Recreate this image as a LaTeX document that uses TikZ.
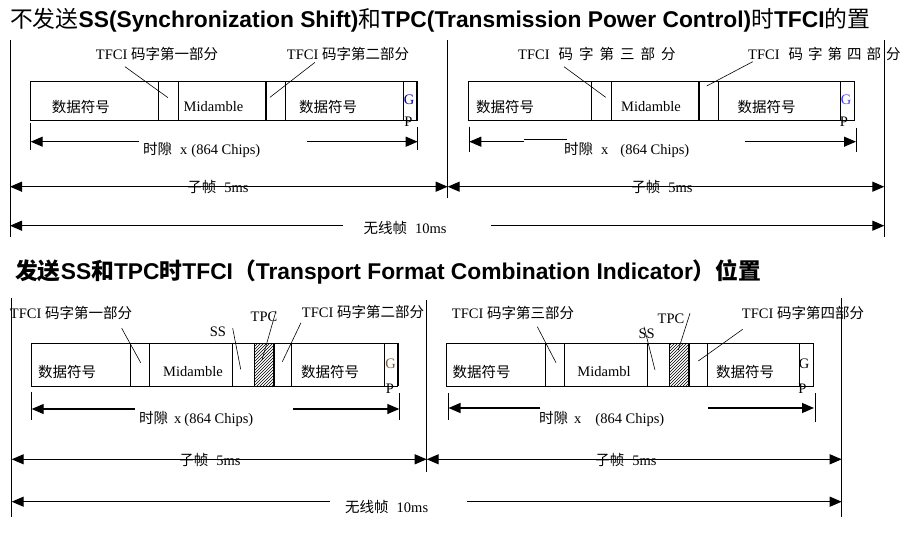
\documentclass[tikz,border=0pt]{standalone}
\usepackage{fontspec}
\setmainfont{Liberation Serif}
\newfontfamily\zhfont{Noto Sans CJK SC}
\newfontfamily\hdfont{Liberation Sans}
\usetikzlibrary{arrows.meta,patterns}
\newcommand\zh[1]{{\zhfont #1}}
\newcommand\lbsize{\fontsize{14.5}{16}\selectfont}
\tikzset{
  bx/.style={draw, line width=1pt},
  thk/.style={line width=2.2pt},
  ldr/.style={line width=0.6pt},
  sep/.style={line width=1pt},
  tk/.style={line width=0.9pt},
  dima/.style={line width=1.2pt, -{Triangle[length=12pt,width=10pt]}},
  dimb/.style={line width=1.2pt, {Triangle[length=12pt,width=10pt]}-{Triangle[length=12pt,width=10pt]}},
  lbl/.style={inner sep=0pt, font=\lbsize},
  ttl/.style={inner sep=0pt, anchor=west, font=\fontsize{22.8}{26}\selectfont},
  hatch/.style={pattern=north east lines, draw, line width=1pt},
}
\begin{document}
\begin{tikzpicture}[x=1pt,y=-1pt]
\fill[white] (0,0) rectangle (906,544);
\useasboundingbox (0,0) rectangle (906,544);

% ---------- titles ----------
\node[ttl] (t1) at (10,20) {\zh{不发送}{\hdfont\bfseries SS(Synchronization Shift)}\zh{和}{\hdfont\bfseries TPC(Transmission Power Control)}\zh{时}{\hdfont\bfseries TFCI}\zh{的置}};
\node[ttl] (t2) at (15,272) {\zh{\bfseries 发送}{\hdfont\bfseries SS}\zh{\bfseries 和}{\hdfont\bfseries TPC}\zh{\bfseries 时}{\hdfont\bfseries TFCI}\zh{\bfseries （}{\hdfont\bfseries Transport Format Combination Indicator}\zh{\bfseries ）位置}};

% ================= TOP PART =================
\coordinate (a1) at (10,40);      \coordinate (a2) at (10,237);
\coordinate (b1) at (447.7,40);   \coordinate (b2) at (447.7,198);
\coordinate (c1) at (884.3,40);   \coordinate (c2) at (884.3,237);
\draw[sep] (a1) -- (a2);
\draw[sep] (b1) -- (b2);
\draw[sep] (c1) -- (c2);

% slot box 1
\draw[bx] (30.7,81.7) rectangle (417.3,120);
\draw[sep] (158.7,81.7) -- (158.7,120);
\draw[sep] (178.7,81.7) -- (178.7,120);
\draw[thk] (265.7,81.7) -- (265.7,120);
\draw[sep] (285.3,81.7) -- (285.3,120);
\draw[sep] (403.7,81.7) -- (403.7,120);
\draw[thk] (417.3,81.7) -- (417.3,120);
% slot box 2
\draw[bx] (468.3,81.7) rectangle (854.3,120);
\draw[sep] (591.7,81.7) -- (591.7,120);
\draw[sep] (611.7,81.7) -- (611.7,120);
\draw[thk] (699.3,81.7) -- (699.3,120);
\draw[sep] (718.7,81.7) -- (718.7,120);
\draw[sep] (840.7,81.7) -- (840.7,120);

% labels above
\node[lbl] (l1) at (157,54) {TFCI \zh{码字第一部分}};
\node[lbl] (l2) at (348,54) {TFCI \zh{码字第二部分}};
\node[lbl, anchor=west] (l3) at (518,54) {TFCI\hspace{9pt}\zh{码\hspace{6pt}字\hspace{6pt}第\hspace{6pt}三\hspace{6pt}部\hspace{6pt}分}};
\node[lbl, anchor=west] (l4) at (748,54) {TFCI\hspace{9pt}\zh{码\hspace{5pt}字\hspace{5pt}第\hspace{5pt}四\hspace{5pt}部\hspace{5pt}分}};
\coordinate (p1a) at (125,66.7);   \coordinate (p1b) at (168,97.7);
\coordinate (p2a) at (315,62.3);   \coordinate (p2b) at (270,97.3);
\coordinate (p3a) at (564,66.7);   \coordinate (p3b) at (605.7,97.3);
\coordinate (p4a) at (752.7,61.7); \coordinate (p4b) at (706.7,86);
\draw[ldr] (p1a) -- (p1b);
\draw[ldr] (p2a) -- (p2b);
\draw[ldr] (p3a) -- (p3b);
\draw[ldr] (p4a) -- (p4b);

% box texts
\node[lbl] (d1) at (81,107) {\zh{数据符号}};
\node[lbl] (m1) at (213.5,107) {Midamble};
\node[lbl] (d2) at (328,107) {\zh{数据符号}};
\node[lbl, text=blue!60!black] (g1) at (409,100) {G};
\node[lbl] (q1) at (408.5,122) {P};
\node[lbl] (d3) at (505,107) {\zh{数据符号}};
\node[lbl] (m2) at (651,107) {Midamble};
\node[lbl] (d4) at (766.7,107) {\zh{数据符号}};
\node[lbl, text=blue!75!white] (g2) at (846,100) {G};
\node[lbl] (q2) at (844,122) {P};

% slot dimension 1
\coordinate (s1l) at (30.7,141.7); \coordinate (s1m) at (139,141.7);
\coordinate (s1n) at (307,141.7);  \coordinate (s1r) at (417.7,141.7);
\draw[tk] (30.7,123) -- (30.7,150);
\draw[tk] (417.7,126.7) -- (417.7,150);
\draw[dima] (s1m) -- (s1l);
\draw[dima] (s1n) -- (s1r);
\node[lbl, anchor=west] (x1) at (143,150) {\zh{时隙}\hspace{8pt}x\hspace{4pt}(864 Chips)};
% slot dimension 2
\coordinate (s2l) at (469.3,141.7); \coordinate (s2m) at (524,141.7);
\coordinate (s2u) at (524,139.5);   \coordinate (s2v) at (567,139.5);
\coordinate (s2n) at (744.5,141.7); \coordinate (s2r) at (856,141.7);
\draw[tk] (469.3,126.7) -- (469.3,151.7);
\draw[tk] (856,127.7) -- (856,152.3);
\draw[dima] (s2m) -- (s2l);
\draw[line width=1.2pt] (s2u) -- (s2v);
\draw[dima] (s2n) -- (s2r);
\node[lbl, anchor=west] (x2) at (564,150) {\zh{时隙}\hspace{8pt}x\hspace{12pt}(864 Chips)};

% sub-frames
\coordinate (f1l) at (10,186.7);  \coordinate (f1r) at (447.7,186.7);
\coordinate (f2l) at (447.7,186.7); \coordinate (f2r) at (884.3,186.7);
\draw[dimb] (f1l) -- (f1r);
\draw[dimb] (f2l) -- (f2r);
\node[lbl] (sf1) at (218,187) {\zh{子帧}\hspace{8pt}5ms};
\node[lbl] (sf2) at (662,187) {\zh{子帧}\hspace{8pt}5ms};

% radio frame
\coordinate (r1l) at (10,225.7);  \coordinate (r1m) at (343,225.7);
\coordinate (r1n) at (491,225.7); \coordinate (r1r) at (884.3,225.7);
\draw[dima] (r1m) -- (r1l);
\draw[dima] (r1n) -- (r1r);
\node[lbl] (rf1) at (405,228) {\zh{无线帧}\hspace{8pt}10ms};

% ================= BOTTOM PART =================
\coordinate (A1) at (11.7,298);   \coordinate (A2) at (11.7,517);
\coordinate (B1) at (426.7,300);  \coordinate (B2) at (426.7,472);
\coordinate (C1) at (841.7,298);  \coordinate (C2) at (841.7,517);
\draw[sep] (A1) -- (A2);
\draw[sep] (B1) -- (B2);
\draw[sep] (C1) -- (C2);

% box 3
\draw[hatch] (254.3,343.3) rectangle (274,386.3);
\draw[bx] (31.7,343.3) rectangle (397.7,386.3);
\draw[sep] (130.7,343.3) -- (130.7,386.3);
\draw[sep] (149.3,343.3) -- (149.3,386.3);
\draw[sep] (232.7,343.3) -- (232.7,386.3);
\draw[thk] (274,343.3) -- (274,386.3);
\draw[sep] (291.7,343.3) -- (291.7,386.3);
\draw[sep] (384.3,343.3) -- (384.3,386.3);
\draw[thk] (397.7,343.3) -- (397.7,386.3);
% box 4
\draw[hatch] (669.3,343.3) rectangle (689.3,386.3);
\draw[bx] (446.7,343.3) rectangle (813.3,386.3);
\draw[sep] (545.7,343.3) -- (545.7,386.3);
\draw[sep] (564.3,343.3) -- (564.3,386.3);
\draw[sep] (647.7,343.3) -- (647.7,386.3);
\draw[thk] (689.3,343.3) -- (689.3,386.3);
\draw[sep] (707.3,343.3) -- (707.3,386.3);
\draw[sep] (799.3,343.3) -- (799.3,386.3);

% labels above
\node[lbl] (L1) at (71,313) {TFCI \zh{码字第一部分}};
\node[lbl] (S1) at (218,331.7) {SS};
\node[lbl] (T1) at (264,316.7) {TPC};
\node[lbl] (L2) at (363,311.7) {TFCI \zh{码字第二部分}};
\node[lbl] (L3) at (513,313) {TFCI \zh{码字第三部分}};
\node[lbl] (S2) at (646.7,333.3) {SS};
\node[lbl] (T2) at (671,318.3) {TPC};
\node[lbl] (L4) at (803,313.3) {TFCI \zh{码字第四部分}};
\draw[ldr] (121.7,328.3) -- (140.7,362.7);
\draw[ldr] (232.7,328.3) -- (240.7,369.3);
\draw[ldr] (276,311) -- (262,360);
\draw[ldr] (301,322.7) -- (282.3,361.7);
\draw[ldr] (537.3,326.7) -- (556,362.7);
\draw[ldr] (644,326.7) -- (655,370);
\draw[ldr] (690,313.3) -- (678.3,350);
\draw[ldr] (742.7,329.3) -- (698.3,361);

% box texts
\node[lbl] (D1) at (67,372) {\zh{数据符号}};
\node[lbl] (M1) at (193,372) {Midamble};
\node[lbl] (D2) at (330,372) {\zh{数据符号}};
\node[lbl, text=brown!70!black] (G1) at (390.5,364) {G};
\node[lbl] (P1) at (389.8,388.5) {P};
\node[lbl] (D3) at (481.7,372) {\zh{数据符号}};
\node[lbl] (M2) at (604,372) {Midambl};
\node[lbl] (D4) at (745,372) {\zh{数据符号}};
\node[lbl] (G2) at (804,364) {G};
\node[lbl] (P2) at (802.5,388.5) {P};

% slot dimension 3
\coordinate (s3l) at (31.7,409); \coordinate (s3m) at (135,409);
\coordinate (s3n) at (293,409);  \coordinate (s3r) at (399.3,409);
\draw[tk] (31.7,391.7) -- (31.7,420);
\draw[tk] (399.3,393.3) -- (399.3,420);
\draw[dima] (s3m) -- (s3l);
\draw[dima] (s3n) -- (s3r);
\node[lbl, anchor=west] (X3) at (139,419) {\zh{时隙}\hspace{6pt}x\hspace{3pt}(864 Chips)};
% slot dimension 4
\coordinate (s4l) at (448.5,408); \coordinate (s4m) at (540,408);
\coordinate (s4n) at (708,408);   \coordinate (s4r) at (814,408);
\draw[tk] (448.5,393.3) -- (448.5,420);
\draw[tk] (815,393.3) -- (815,422);
\draw[dima] (s4m) -- (s4l);
\draw[dima] (s4n) -- (s4r);
\node[lbl, anchor=west] (X4) at (539,419) {\zh{时隙}\hspace{6pt}x\hspace{14pt}(864 Chips)};

% sub-frames
\coordinate (F1l) at (11.7,459.3);  \coordinate (F1r) at (426.7,459.3);
\coordinate (F2l) at (426.7,459.3); \coordinate (F2r) at (841.7,459.3);
\draw[dimb] (F1l) -- (F1r);
\draw[dimb] (F2l) -- (F2r);
\node[lbl] (SF1) at (210,460) {\zh{子帧}\hspace{8pt}5ms};
\node[lbl] (SF2) at (626,460) {\zh{子帧}\hspace{8pt}5ms};

% radio frame
\coordinate (R1l) at (11.7,501.7); \coordinate (R1m) at (330,501.7);
\coordinate (R1n) at (467,501.7);  \coordinate (R1r) at (841.7,501.7);
\draw[dima] (R1m) -- (R1l);
\draw[dima] (R1n) -- (R1r);
\node[lbl] (RF1) at (386.7,506.7) {\zh{无线帧}\hspace{8pt}10ms};
\end{tikzpicture}
\end{document}
